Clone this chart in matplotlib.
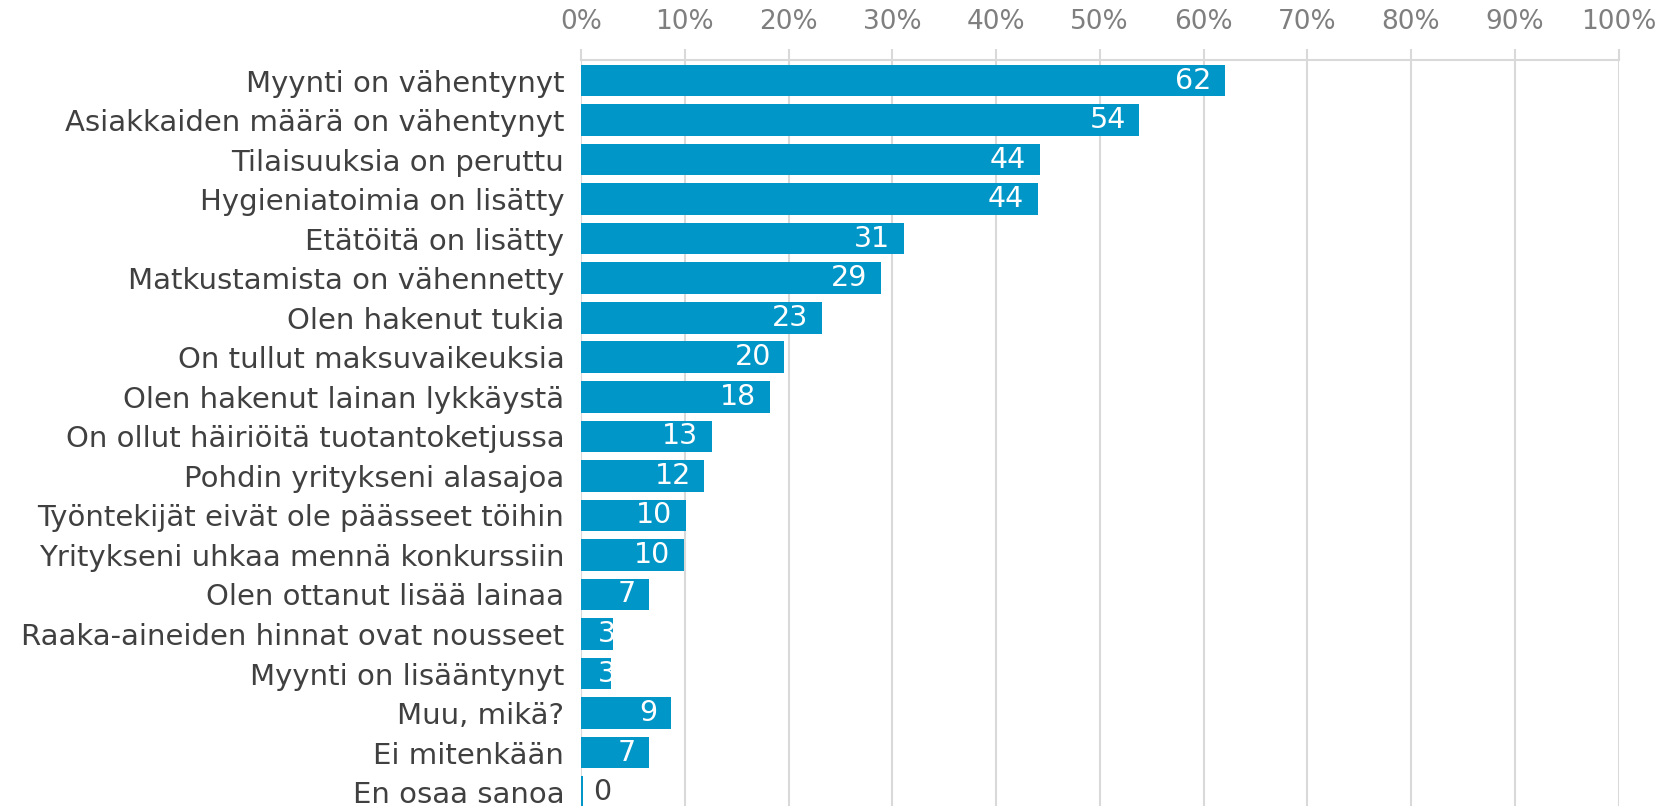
import matplotlib.pyplot as plt
import numpy as np

categories = ["Myynti on vähentynyt", "Asiakkaiden määrä on vähentynyt",
              "Tilaisuuksia on peruttu", "Hygieniatoimia on lisätty",
              "Etätöitä on lisätty", "Matkustamista on vähennetty",
              "Olen hakenut tukia", "On tullut maksuvaikeuksia",
              "Olen hakenut lainan lykkäystä", "On ollut häiriöitä tuotantoketjussa",
              "Pohdin yritykseni alasajoa", "Työntekijät eivät ole päässeet töihin",
              "Yritykseni uhkaa mennä konkurssiin", "Olen ottanut lisää lainaa",
              "Raaka-aineiden hinnat ovat nousseet", "Myynti on lisääntynyt",
              "Muu, mikä?", "Ei mitenkään", "En osaa sanoa"]
values = [62.1, 53.8, 44.2, 44.0, 31.1, 28.9, 23.2, 19.6, 18.2, 12.6,
          11.9, 10.1, 9.9, 6.6, 3.1, 2.9, 8.7, 6.6, 0.2]
tick_vals = np.arange(0, 101, 10)

bar_color = "#0096C8"
text_dark = "#404040"
grid_gray = "#D9D9D9"

fig = plt.figure(figsize=(16.6, 8.06), dpi=100)
ax = fig.add_axes([0.35, 0.0, 0.625, 0.9256])

y = np.arange(len(categories))
ax.barh(y, values, height=0.8, color=bar_color, zorder=2)

for yi, v in zip(y, values):
    lab = str(int(round(v)))
    if v < 1:
        ax.text(v + 1.0, yi, lab, ha="left", va="center", fontsize=20.5,
                color=text_dark)
    else:
        # small bars: label sticks out past the end, like the original
        ax.text(max(v - 1.3, 3.4), yi, lab, ha="right", va="center",
                fontsize=20.5, color="white", zorder=3)

ax.set_xlim(0, 100)
ax.set_ylim(18.35, -0.52)
ax.set_yticks(y)
ax.set_yticklabels(categories, fontsize=21, color=text_dark)
ax.tick_params(axis="y", length=0, pad=12)

ax.xaxis.tick_top()
ax.set_xticks(tick_vals)
ax.set_xticklabels([f"{t}%" for t in tick_vals], fontsize=19, color="#7F7F7F")
ax.tick_params(axis="x", length=8, width=1.5, color=grid_gray, pad=10)
ax.grid(axis="x", color=grid_gray, linewidth=1.5, zorder=0)

for s in ["left", "right", "bottom"]:
    ax.spines[s].set_visible(False)
ax.spines["top"].set_color(grid_gray)
ax.spines["top"].set_linewidth(1.5)

plt.savefig("out.png", dpi=100)
